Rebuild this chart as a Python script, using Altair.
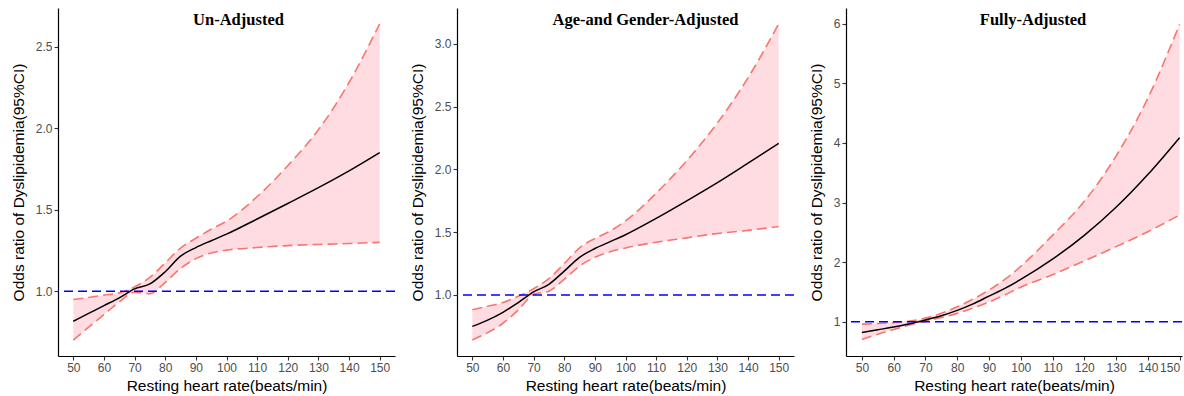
import altair as alt
import pandas as pd

# Resting heart rate grid (beats/min)
hr = [50, 55, 60, 65, 70, 75, 80, 85, 90, 95, 100, 110, 120, 130, 140, 150]

# Un-Adjusted
un_est = [0.816, 0.864, 0.912, 0.960, 1.015, 1.045, 1.120, 1.215, 1.268, 1.310, 1.350, 1.443, 1.538, 1.635, 1.738, 1.850]
un_hi = [0.949, 0.962, 0.976, 0.990, 1.027, 1.085, 1.174, 1.265, 1.325, 1.380, 1.430, 1.580, 1.770, 1.990, 2.280, 2.640]
un_lo = [0.700, 0.780, 0.857, 0.935, 0.994, 0.985, 1.055, 1.140, 1.200, 1.235, 1.252, 1.268, 1.280, 1.287, 1.293, 1.300]

# Age- and Gender-Adjusted
ag_est = [0.750, 0.800, 0.862, 0.940, 1.024, 1.085, 1.190, 1.300, 1.370, 1.425, 1.480, 1.610, 1.750, 1.895, 2.050, 2.207]
ag_hi = [0.882, 0.910, 0.940, 0.990, 1.050, 1.130, 1.250, 1.375, 1.450, 1.510, 1.590, 1.810, 2.070, 2.370, 2.730, 3.160]
ag_lo = [0.642, 0.700, 0.775, 0.880, 1.005, 1.030, 1.125, 1.230, 1.300, 1.345, 1.375, 1.420, 1.455, 1.490, 1.515, 1.545]

# Fully-Adjusted
fa_est = [0.820, 0.865, 0.910, 0.965, 1.030, 1.100, 1.190, 1.300, 1.430, 1.560, 1.710, 2.050, 2.450, 2.920, 3.470, 4.090]
fa_hi = [0.960, 0.970, 0.985, 1.010, 1.060, 1.140, 1.250, 1.380, 1.530, 1.710, 1.930, 2.450, 3.020, 3.780, 4.750, 5.990]
fa_lo = [0.700, 0.790, 0.870, 0.945, 1.010, 1.070, 1.140, 1.230, 1.330, 1.450, 1.580, 1.790, 2.020, 2.260, 2.510, 2.790]

x_ticks = [50, 60, 70, 80, 90, 100, 110, 120, 130, 140, 150]
ref_value = [1]

titles = ["Un-Adjusted", "Age-and Gender-Adjusted", "Fully-Adjusted"]
y_title = "Odds ratio of Dyslipidemia(95%CI)"
x_title = "Resting heart rate(beats/min)"

PLOT_H = 348


def panel(title, est, lo, hi, xdom, ydom, yticks, yfmt, width, dx, flush=False):
    df = pd.DataFrame({"hr": hr, "est": est, "lo": lo, "hi": hi})
    xs = alt.Scale(domain=xdom, nice=False, zero=False)
    ys = alt.Scale(domain=ydom, nice=False, zero=False)
    if flush:
        xax = alt.Axis(values=x_ticks, title=x_title, labelFlush=5)
    else:
        xax = alt.Axis(values=x_ticks, title=x_title, labelFlush=False)
    yax = alt.Axis(values=yticks, format=yfmt, title=y_title)

    def X():
        return alt.X("hr:Q", scale=xs, axis=xax)

    def Y(f):
        return alt.Y(f + ":Q", scale=ys, axis=yax)

    base = alt.Chart(df)
    band = base.mark_area(color="#FFC0CB", opacity=0.55, interpolate="monotone").encode(
        x=X(), y=Y("lo"), y2="hi:Q")
    upper = base.mark_line(color="#F8766D", strokeDash=[10, 5], strokeWidth=1.6,
                           interpolate="monotone").encode(x=X(), y=Y("hi"))
    lower = base.mark_line(color="#F8766D", strokeDash=[10, 5], strokeWidth=1.6,
                           interpolate="monotone").encode(x=X(), y=Y("lo"))
    line = base.mark_line(color="black", strokeWidth=1.5,
                          interpolate="monotone").encode(x=X(), y=Y("est"))
    ref = alt.Chart(pd.DataFrame({"ref": ref_value})).mark_rule(
        color="#0000FF", strokeDash=[9, 5], strokeWidth=1.5).encode(y=Y("ref"))
    head = alt.Chart(pd.DataFrame({"t": [title]})).mark_text(
        font="Liberation Serif", fontSize=16.5, fontWeight="bold", color="black",
        align="center", baseline="alphabetic").encode(
        text="t:N", x=alt.value(width / 2 + dx), y=alt.value(17))
    return alt.layer(band, upper, lower, line, ref, head).properties(
        width=width, height=PLOT_H)


p1 = panel(titles[0], un_est, un_lo, un_hi, [45, 155], [0.603, 2.737],
           [1.0, 1.5, 2.0, 2.5], ".1f", 337, 12)
p2 = panel(titles[1], ag_est, ag_lo, ag_hi, [45, 155], [0.514, 3.286],
           [1.0, 1.5, 2.0, 2.5, 3.0], ".1f", 337, 20)
p3 = panel(titles[2], fa_est, fa_lo, fa_hi, [45, 150.76], [0.4245, 6.2655],
           [1, 2, 3, 4, 5, 6], "d", 336, 19, flush=True)

chart = alt.hconcat(p1, p2, p3, spacing=14).properties(
    padding={"left": 11, "top": 8, "right": 0, "bottom": 0}
).configure_view(stroke=None).configure_axis(
    grid=False,
    domainColor="black", domainWidth=1.2,
    tickColor="#333333", tickSize=4, tickWidth=1.1,
    labelFont="Liberation Sans", labelFontSize=12, labelColor="#4D4D4D", labelPadding=2,
    titleFont="Liberation Sans", titleFontSize=15.5, titleFontWeight="normal", titleColor="black",
).configure_axisY(titlePadding=9).configure_axisX(titlePadding=5)

chart.save("out.html", embed_options={"renderer": "svg", "actions": False})
